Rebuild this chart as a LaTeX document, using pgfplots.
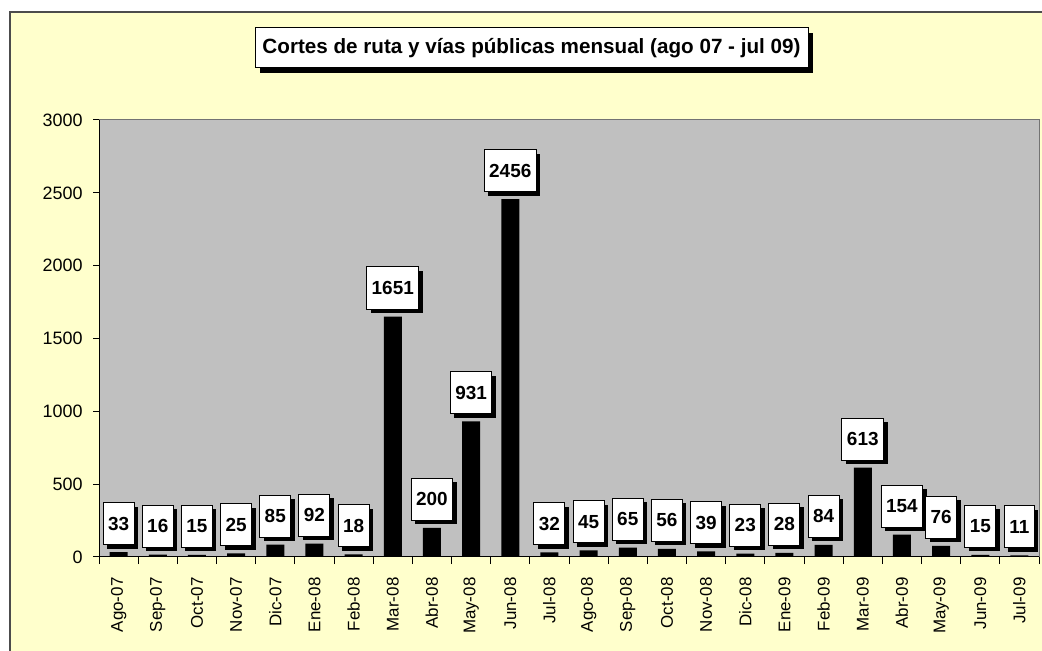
\documentclass[border=0pt]{standalone}
\usepackage{graphicx}
\usepackage{pgfplots}
\pgfplotsset{compat=1.18}
\usepackage{fontspec}
\setmainfont{Liberation Sans}
\usetikzlibrary{shadows}
\definecolor{bgyellow}{HTML}{FFFFCC}
\definecolor{plotgray}{HTML}{C0C0C0}
\begin{document}
\begin{tikzpicture}
\useasboundingbox (0bp,0bp) rectangle (1042bp,651bp);
\fill[white] (0bp,0bp) rectangle (1042bp,651bp);
\fill[bgyellow] (10bp,0bp) rectangle (1042bp,639bp);
\draw[line width=1.5bp, black!70] (10bp,0bp) -- (10bp,639bp) -- (1042bp,639bp);
\node[draw=black, fill=white, line width=1bp,
  drop shadow={shadow xshift=5bp, shadow yshift=-5bp, opacity=1, fill=black},
  minimum width=553bp, minimum height=40bp, inner sep=0pt] at (531.5bp,603bp)
  {\resizebox{538bp}{!}{\bfseries\fontsize{19}{22}\selectfont Cortes de ruta y vías públicas mensual (ago 07 - jul 09)}};
\begin{axis}[
  at={(118.6bp,94bp)}, anchor=origin, scale only axis,
  width=940bp, height=437bp,
  xmin=-0.5, xmax=23.5, ymin=0, ymax=3000,
  /pgf/number format/assume math mode=true,
  /pgf/number format/set thousands separator={},
  axis background/.style={fill=plotgray},
  ytick={0,500,...,3000},
  xtick={0,...,23},
  xticklabels={Ago-07,Sep-07,Oct-07,Nov-07,Dic-07,Ene-08,Feb-08,Mar-08,Abr-08,May-08,Jun-08,Jul-08,Ago-08,Sep-08,Oct-08,Nov-08,Dic-08,Ene-09,Feb-09,Mar-09,Abr-09,May-09,Jun-09,Jul-09},
  x tick label style={yshift=-11bp, rotate=90, anchor=east, font=\fontsize{17}{19}\selectfont},
  y tick label style={xshift=-7bp, font=\fontsize{18}{20}\selectfont},
  minor xtick={-0.5,0.5,...,23.5},
  tick style={black, line width=1bp},
  major x tick style={draw=none},
  tick align=outside, tick pos=left,
  major tick length=6bp, minor tick length=7bp,
  axis line style={draw=black!55, line width=1bp},
  ybar, bar width=18bp,
  nodes near coords,
  every node near coord/.append style={anchor=south, yshift=7bp, draw=black, fill=white,
    line width=1bp, font=\bfseries\fontsize{19}{21}\selectfont, inner xsep=5bp,
    minimum height=42bp,
    drop shadow={shadow xshift=4bp, shadow yshift=-4bp, opacity=1, fill=black}},
]
\addplot[fill=black, draw=none] coordinates {
(0,33) (1,16) (2,15) (3,25) (4,85) (5,92) (6,18) (7,1651) (8,200) (9,931) (10,2456) (11,32)
(12,45) (13,65) (14,56) (15,39) (16,23) (17,28) (18,84) (19,613) (20,154) (21,76) (22,15) (23,11)};
\draw[black, line width=1.5bp] (rel axis cs:0,1) -- (rel axis cs:0,0) -- (rel axis cs:1,0);
\end{axis}
\end{tikzpicture}
\end{document}
